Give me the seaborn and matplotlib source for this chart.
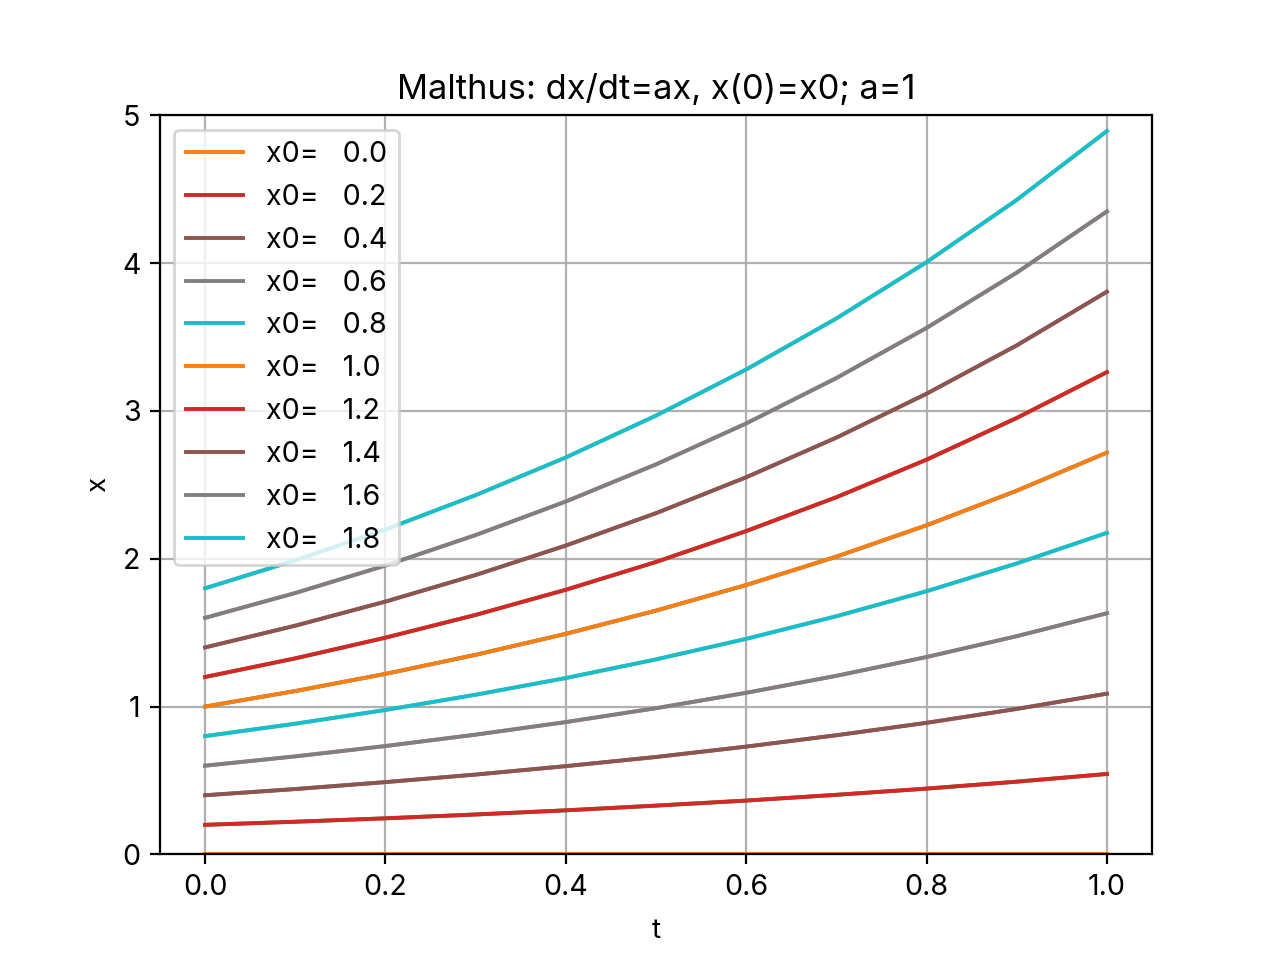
import matplotlib
matplotlib.use("Agg")
import matplotlib.pyplot as plt
import seaborn as sns
import pandas as pd

plt.rcParams['font.family'] = ['Inter', 'Noto Sans CJK JP', 'DejaVu Sans']

t = [0.0, 0.1, 0.2, 0.3, 0.4, 0.5, 0.6, 0.7, 0.8, 0.9, 1.0]
x0_values = [0.0, 0.2, 0.4, 0.6, 0.8, 1.0, 1.2, 1.4, 1.6, 1.8]

s00 = [0.0] * 11
s02 = [0.200, 0.221, 0.244, 0.270, 0.298, 0.330, 0.364, 0.403, 0.445, 0.492, 0.544]
s04 = [0.400, 0.442, 0.489, 0.540, 0.597, 0.659, 0.729, 0.806, 0.890, 0.984, 1.087]
s06 = [0.600, 0.663, 0.733, 0.810, 0.895, 0.989, 1.093, 1.208, 1.335, 1.476, 1.631]
s08 = [0.800, 0.884, 0.977, 1.080, 1.193, 1.319, 1.458, 1.611, 1.780, 1.968, 2.175]
s10 = [1.000, 1.105, 1.221, 1.350, 1.492, 1.649, 1.822, 2.014, 2.226, 2.460, 2.718]
s12 = [1.200, 1.326, 1.466, 1.620, 1.790, 1.978, 2.187, 2.416, 2.670, 2.952, 3.262]
s14 = [1.400, 1.547, 1.710, 1.890, 2.089, 2.308, 2.551, 2.819, 3.116, 3.443, 3.806]
s16 = [1.600, 1.768, 1.954, 2.160, 2.387, 2.638, 2.915, 3.222, 3.561, 3.935, 4.349]
s18 = [1.800, 1.989, 2.198, 2.430, 2.685, 2.968, 3.280, 3.625, 4.006, 4.427, 4.893]
series = [s00, s02, s04, s06, s08, s10, s12, s14, s16, s18]

under_palette = ['#1f77b4', '#2ca02c', '#9467bd', '#e377c2', '#bcbd22']
palette = ['#ff7f0e', '#d62728', '#8c564b', '#7f7f7f', '#17becf']

fig, ax = plt.subplots(figsize=(6.4, 4.8), dpi=200)
for i, (x0, ys) in enumerate(zip(x0_values, series)):
    df = pd.DataFrame({'t': t, 'x': ys})
    sns.lineplot(data=df, x='t', y='x', ax=ax, color=under_palette[i % 5],
                 linewidth=1.4, legend=False)
    sns.lineplot(data=df, x='t', y='x', ax=ax, color=palette[i % 5],
                 label='x0=%6.1f' % x0, linewidth=1.4)

ax.set_ylim(0, 5)
ax.set_xlabel('t', labelpad=6)
ax.set_ylabel('x')
ax.set_title('Malthus: dx/dt=ax, x(0)=x0; a=1', fontsize=12.4)
ax.tick_params(labelsize=10.3)
ax.grid(True)
ax.legend(loc='upper left', labelspacing=0.555, fontsize=10.3)
fig.savefig('out.png', dpi=200)
